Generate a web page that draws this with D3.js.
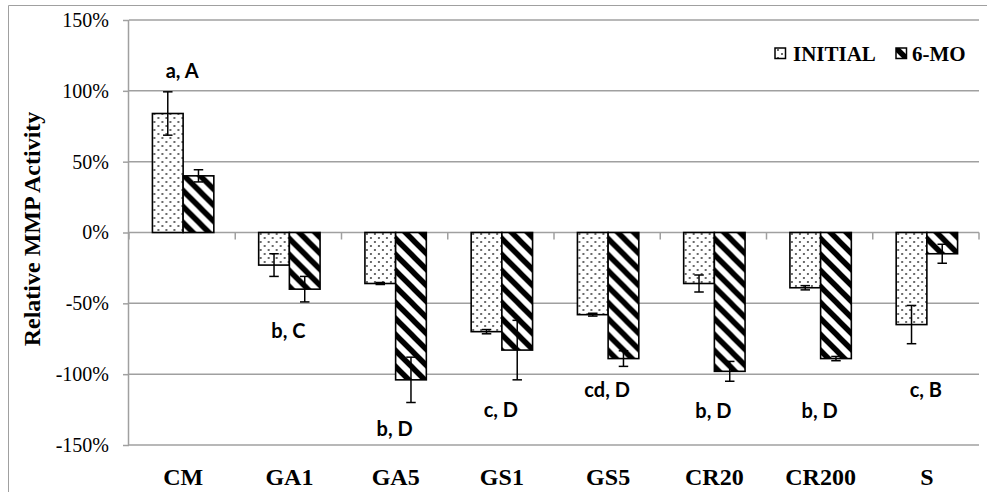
<!DOCTYPE html>
<html>
<head>
<meta charset="utf-8">
<script src="https://cdn.jsdelivr.net/npm/d3@7"></script>
<style>
  html, body { margin: 0; padding: 0; background: #fff; }
  svg { display: block; }
</style>
</head>
<body>
<svg id="chart" width="997" height="492"></svg>
<script>
// Treatment groups along the x axis
const categories = ["CM", "GA1", "GA5", "GS1", "GS5", "CR20", "CR200", "S"];
// Relative MMP activity (%) — initial and after 6 months
const initialValues = [84, -23, -36, -70, -58, -36, -39, -65];
const initialErrors = [15.3, 8, 0.7, 1.5, 1, 6, 1.5, 13.5];
const sixMoValues = [40, -40, -104, -83, -89, -98, -89, -15];
const sixMoErrors = [4.3, 9, 16, 21, 5.5, 7, 1.5, 6.7];
// Statistical group letters and the level (%) where each sits
const groupLetters = ["a, A", "b, C", "b, D", "c, D", "cd, D", "b, D", "b, D", "c, B"];
const letterLevels = [109, -74.6, -143.5, -130.5, -116.4, -131, -131, -116.4];
// Y axis ticks (%)
const yTicks = [-150, -100, -50, 0, 50, 100, 150];
const seriesNames = ["INITIAL", "6-MO"];

const svg = d3.select("#chart");
const plotLeft = 129, plotRight = 979, plotTop = 20, plotBottom = 445;

const y = d3.scaleLinear().domain([-150, 150]).range([plotBottom, plotTop]);
const x0 = d3.scaleBand().domain(categories).range([plotLeft, plotRight]).paddingInner(0).paddingOuter(0);
const groupW = 61.4;
const x1 = d3.scaleBand().domain(["init", "mo6"]).range([0, groupW]);
const groupX = c => x0(c) + (x0.bandwidth() - groupW) / 2 + 1;

// Fill patterns
const defs = svg.append("defs");
const dots = defs.append("pattern").attr("id", "dots")
  .attr("patternUnits", "userSpaceOnUse").attr("width", 8).attr("height", 8);
dots.append("rect").attr("width", 8).attr("height", 8).attr("fill", "#fff");
dots.append("circle").attr("cx", 2).attr("cy", 2).attr("r", 1.05).attr("fill", "#444");
dots.append("circle").attr("cx", 6).attr("cy", 6).attr("r", 1.05).attr("fill", "#444");

const stripes = defs.append("pattern").attr("id", "stripes")
  .attr("patternUnits", "userSpaceOnUse").attr("width", 16).attr("height", 16);
stripes.append("rect").attr("width", 16).attr("height", 16).attr("fill", "#fff");
stripes.append("path")
  .attr("d", "M-4,-4L20,20M-4,12L4,20M12,-4L20,4")
  .attr("stroke", "#000").attr("stroke-width", 5.5).attr("fill", "none");

// Frame around the chart area
svg.append("path").attr("d", "M8.5,500V5.5H987")
  .attr("fill", "none").attr("stroke", "#a0a0a0").attr("stroke-width", 1);

// Horizontal gridlines
svg.append("g").selectAll("line").data(yTicks).join("line")
  .attr("x1", plotLeft).attr("x2", plotRight)
  .attr("y1", d => y(d)).attr("y2", d => y(d))
  .attr("stroke", "#a0a0a0").attr("stroke-width", 1.5);

// Y axis
const yAxis = d3.axisLeft(y).tickValues(yTicks).tickSize(6).tickPadding(14)
  .tickFormat(d => d + "%");
const gy = svg.append("g").attr("transform", `translate(${plotLeft},0)`).call(yAxis);
gy.select(".domain").attr("stroke", "#a0a0a0").attr("stroke-width", 1.5).attr("d", `M-0.5,${plotTop}V${plotBottom}`);
gy.selectAll(".tick line").attr("stroke", "#a0a0a0").attr("stroke-width", 1.5);
gy.selectAll(".tick text").attr("font-family", "'Liberation Serif', 'Times New Roman', serif")
  .attr("font-size", 20).attr("fill", "#000");

// Category ticks hanging from the zero line
const catBounds = categories.map(c => x0(c)).concat([plotRight]);
svg.append("g").selectAll("line").data(catBounds).join("line")
  .attr("x1", d => d).attr("x2", d => d)
  .attr("y1", y(0)).attr("y2", y(0) + 7)
  .attr("stroke", "#a0a0a0").attr("stroke-width", 1.5);

// Category labels at the bottom
svg.append("g").selectAll("text").data(categories).join("text")
  .attr("x", d => x0(d) + x0.bandwidth() / 2 + 1)
  .attr("y", 485)
  .attr("text-anchor", "middle")
  .attr("font-family", "'Liberation Serif', 'Times New Roman', serif")
  .attr("font-weight", "bold").attr("font-size", 24)
  .text(d => d);

// Bars
const rows = categories.map((c, i) => ({
  c,
  series: [
    { key: "init", v: initialValues[i], e: initialErrors[i], fill: "url(#dots)" },
    { key: "mo6", v: sixMoValues[i], e: sixMoErrors[i], fill: "url(#stripes)" }
  ]
}));

const groups = svg.append("g").selectAll("g").data(rows).join("g")
  .attr("transform", d => `translate(${groupX(d.c)},0)`);

groups.selectAll("rect").data(d => d.series).join("rect")
  .attr("x", d => x1(d.key))
  .attr("width", x1.bandwidth())
  .attr("y", d => y(Math.max(0, d.v)))
  .attr("height", d => Math.abs(y(d.v) - y(0)))
  .attr("fill", d => d.fill)
  .attr("stroke", "#000").attr("stroke-width", 1.6);

// Error bars
const capW = 9.5;
const eb = groups.selectAll("g.err").data(d => d.series).join("g").attr("class", "err")
  .attr("stroke", "#000").attr("stroke-width", 1.5);
eb.append("line")
  .attr("x1", d => x1(d.key) + x1.bandwidth() / 2).attr("x2", d => x1(d.key) + x1.bandwidth() / 2)
  .attr("y1", d => y(d.v + d.e)).attr("y2", d => y(d.v - d.e));
eb.append("line")
  .attr("x1", d => x1(d.key) + x1.bandwidth() / 2 - capW / 2).attr("x2", d => x1(d.key) + x1.bandwidth() / 2 + capW / 2)
  .attr("y1", d => y(d.v + d.e)).attr("y2", d => y(d.v + d.e));
eb.append("line")
  .attr("x1", d => x1(d.key) + x1.bandwidth() / 2 - capW / 2).attr("x2", d => x1(d.key) + x1.bandwidth() / 2 + capW / 2)
  .attr("y1", d => y(d.v - d.e)).attr("y2", d => y(d.v - d.e));

// Group letters
svg.append("g").selectAll("text").data(groupLetters).join("text")
  .attr("x", (d, i) => x0(categories[i]) + x0.bandwidth() / 2)
  .attr("y", (d, i) => y(letterLevels[i]))
  .attr("text-anchor", "middle")
  .attr("font-family", "Lato, 'Noto Sans', sans-serif")
  .attr("font-weight", "bold").attr("font-size", 20)
  .text(d => d);

// Y axis title
svg.append("text")
  .attr("transform", "translate(40,229) rotate(-90)")
  .attr("text-anchor", "middle")
  .attr("font-family", "'Liberation Serif', 'Times New Roman', serif")
  .attr("font-weight", "bold").attr("font-size", 24)
  .text("Relative MMP Activity");

// Legend
const legendItems = [
  { name: seriesNames[0], fill: "url(#dots)", sx: 775, tx: 793 },
  { name: seriesNames[1], fill: "url(#stripes)", sx: 896, tx: 912 }
];
const lg = svg.append("g").selectAll("g").data(legendItems).join("g");
lg.append("rect").attr("x", d => d.sx).attr("y", 48).attr("width", 10.5).attr("height", 10.5)
  .attr("fill", d => d.fill).attr("stroke", "#000").attr("stroke-width", 1.5);
lg.append("text").attr("x", d => d.tx).attr("y", 61)
  .attr("font-family", "'Liberation Serif', 'Times New Roman', serif")
  .attr("font-weight", "bold").attr("font-size", 21)
  .text(d => d.name);
</script>
</body>
</html>
